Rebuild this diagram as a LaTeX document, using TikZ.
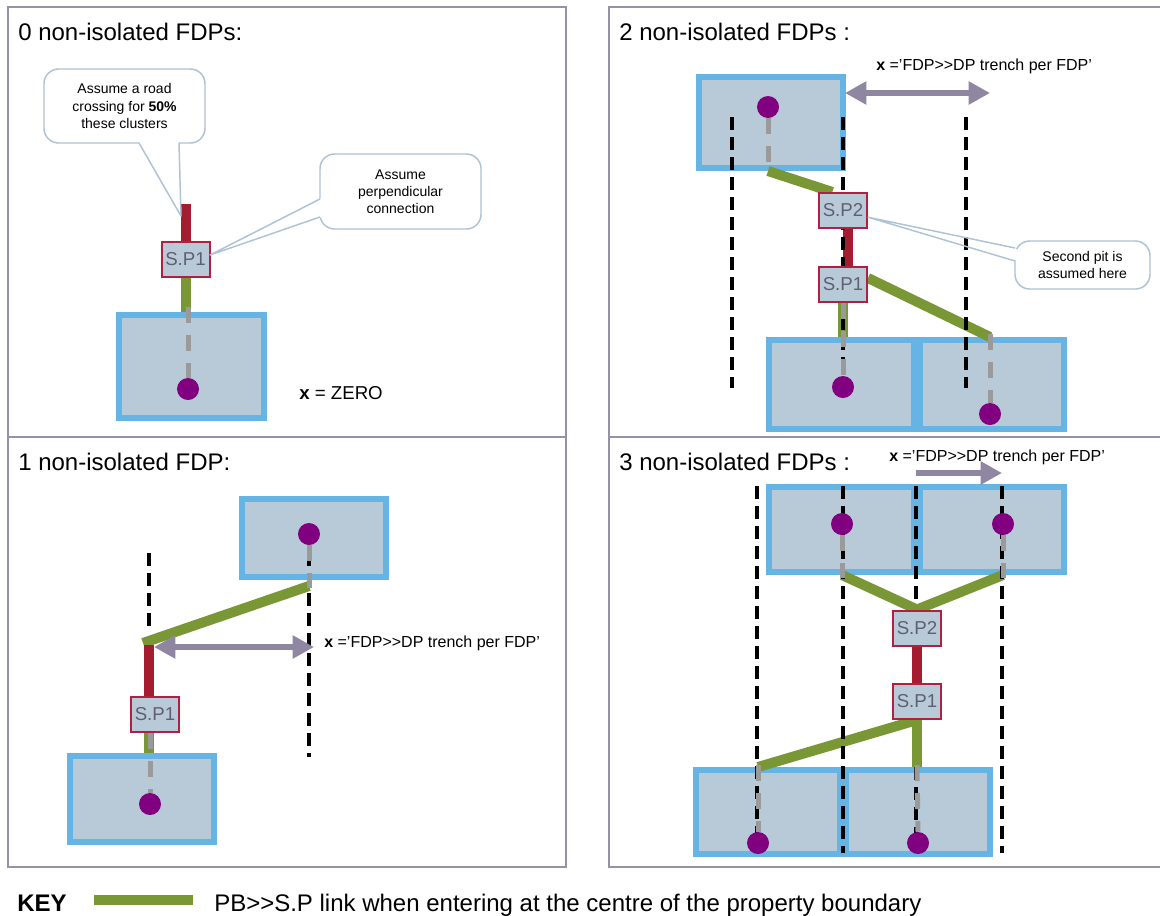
\documentclass[tikz,border=0pt]{standalone}
\usepackage{fontspec}
\setmainfont{Liberation Sans}
\usetikzlibrary{arrows.meta}
\definecolor{pbfill}{HTML}{B8CAD8}
\definecolor{pbblue}{HTML}{66B4E3}
\definecolor{dotpurple}{HTML}{800080}
\definecolor{linkgreen}{HTML}{7A9735}
\definecolor{linkred}{HTML}{A51B30}
\definecolor{pitred}{HTML}{B02040}
\definecolor{dashgray}{HTML}{9A9A9A}
\definecolor{arrowgray}{HTML}{8F87A1}
\definecolor{framegray}{HTML}{9690A8}
\definecolor{calloutline}{HTML}{AFC3D4}
\definecolor{pittext}{HTML}{5E6070}
\pgfdeclarelayer{lyboxes}
\pgfdeclarelayer{lylinks}
\pgfdeclarelayer{lytrench}
\pgfdeclarelayer{lydrop}
\pgfsetlayers{lyboxes,lylinks,lytrench,lydrop,main}
\begin{document}
\begin{tikzpicture}[x=0.75pt,y=-0.75pt,
  panelframe/.style={draw=framegray, line width=1.5pt},
  propbox/.style 2 args={draw=pbblue, fill=pbfill, line width=4.5pt, inner sep=0pt,
     minimum width={(#1-6)*0.75pt}, minimum height={(#2-6)*0.75pt}},
  pitbox/.style={draw=pitred, fill=pbfill, line width=1.5pt, minimum width=36pt,
     minimum height=26.25pt, inner sep=0pt, text=pittext, font=\fontsize{14}{16}\selectfont},
  fdpdot/.style={circle, fill=dotpurple, minimum size=16.5pt, inner sep=0pt},
  greenlink/.style={draw=linkgreen, line width=7.5pt},
  redlink/.style={draw=linkred, line width=7.5pt},
  trenchline/.style={draw=black, line width=3pt, dash pattern=on 9.75pt off 5.25pt},
  dropline/.style={draw=dashgray, line width=3.75pt, dash pattern=on 12pt off 9pt},
  measurearrow/.style={draw=arrowgray, line width=4.5pt, >={Triangle[length=16pt,width=16.5pt]}},
  titletext/.style={anchor=base west, inner sep=0pt, font=\fontsize{18}{20}\selectfont},
  labeltext/.style={anchor=base west, inner sep=0pt, font=\fontsize{12}{14}\selectfont},
  calloutbox/.style={draw=calloutline, fill=white, line width=1.1pt, rounded corners=11pt,
     align=center, inner sep=0pt, font=\fontsize{10.5}{12.8}\selectfont},
  callouttail/.style={draw=calloutline, line width=1.1pt, line join=round},
]
\useasboundingbox (0,0) rectangle (1160,915);

\begin{pgfonlayer}{lyboxes}
\fill[white] (0,0) rectangle (1160,915);
\draw[panelframe] (8,7) rectangle (566,437);
\draw[panelframe] (8,437) rectangle (566,867);
\draw[panelframe] (1165,7) -- (609,7) -- (609,437) -- (1165,437);
\draw[panelframe] (1165,437) -- (609,437) -- (609,867) -- (1165,867);
% property boxes
\node[propbox={151}{109}] (pa) at (191.5,366.5) {};
\node[propbox={150}{97}] (pb1) at (771,122.5) {};
\node[propbox={151}{95}] (pb2) at (841.5,384.5) {};
\node[propbox={150}{95}] (pb3) at (992,384.5) {};
\node[propbox={150}{84}] (pc1) at (314,538) {};
\node[propbox={150}{92}] (pc2) at (142,799) {};
\node[propbox={151}{91}] (pd1) at (841.5,529.5) {};
\node[propbox={150}{91}] (pd2) at (992,529.5) {};
\node[propbox={150}{90}] (pd3) at (768,812) {};
\node[propbox={150}{90}] (pd4) at (918,812) {};
\end{pgfonlayer}

% pits
\node[pitbox] (spa) at (185.5,259.5) {S.P1};
\node[pitbox] (spb2) at (843,210.5) {S.P2};
\node[pitbox] (spb1) at (843,284.5) {S.P1};
\node[pitbox] (spc) at (155,714) {S.P1};
\node[pitbox] (spd2) at (917,628) {S.P2};
\node[pitbox] (spd1) at (917,701.5) {S.P1};

% dots
\node[fdpdot] (da) at (188,389) {};
\node[fdpdot] (db1) at (768,107) {};
\node[fdpdot] (db2) at (843,387) {};
\node[fdpdot] (db3) at (990,414) {};
\node[fdpdot] (dc1) at (309,534) {};
\node[fdpdot] (dc2) at (150,804) {};
\node[fdpdot] (dd1) at (842,524) {};
\node[fdpdot] (dd2) at (1003,524) {};
\node[fdpdot] (dd3) at (758,843) {};
\node[fdpdot] (dd4) at (918,843) {};

% free ends
\coordinate (ra) at (186,204);
\coordinate (gc1) at (309,586);
\coordinate (gc2) at (143,643);
\coordinate (rc) at (149,645);

\begin{pgfonlayer}{lylinks}
% top-left
\draw[redlink] (ra) -- (ra |- spa.north);
\draw[greenlink] (ra |- spa.south) -- (ra |- pa.north);
% top-right
\draw[greenlink] (db1 |- pb1.south) -- ([xshift=-8pt]spb2.north);
\draw[redlink] ([xshift=3.5pt]spb2.south) -- ([xshift=3.5pt]spb1.north);
\draw[greenlink] ([yshift=-9pt]spb1.north east) -- (db3 |- pb3.north);
\draw[greenlink] (spb1.south) -- (spb1.south |- pb2.north);
% bottom-left
\draw[greenlink] (gc1) -- (gc2);
\draw[redlink] (rc) -- (rc |- spc.north);
\draw[greenlink] (rc |- spc.south) -- (rc |- pc2.north);
% bottom-right
\draw[greenlink] (dd1 |- pd1.south) -- (spd2.north);
\draw[greenlink] (dd2 |- pd2.south) -- (spd2.north);
\draw[redlink] (spd2.south) -- (spd1.north);
\draw[greenlink] (spd1.south) -- (dd3 |- pd3.north);
\draw[greenlink] (spd1.south) -- (spd1.south |- pd4.north);
\end{pgfonlayer}

\begin{pgfonlayer}{lytrench}
\draw[trenchline] (732,117) -- (732,388);
\draw[trenchline] (843,117) -- (843,388);
\draw[trenchline] (966,117) -- (966,388);
\draw[trenchline] (149,553) -- (149,630);
\draw[trenchline] (309,553) -- (309,757);
\draw[trenchline] (757,486) -- (757,853);
\draw[trenchline] (843,486) -- (843,853);
\draw[trenchline] (916,486) -- (916,603);
\draw[trenchline] (916,767) -- (916,853);
\draw[trenchline] (1002,486) -- (1002,853);
\end{pgfonlayer}

\begin{pgfonlayer}{lydrop}
\draw[dropline] (188,307) -- (da.north);
\draw[dropline] (db1.south) -- (db1 |- pb1.south);
\draw[dropline] (spb1.south) -- (db2.north);
\draw[dropline] (990,334) -- (db3.north);
\draw[dropline] (dc1.south) -- (309,588);
\draw[dropline] (dc2 |- spc.south) -- (dc2.north);
\draw[dropline] (dd1.south) -- (842,578);
\draw[dropline] (dd2.south) -- (1003,578);
\draw[dropline] (758,765) -- (dd3.north);
\draw[dropline] (917,765) -- (dd4.north);
\end{pgfonlayer}

% titles and labels
\node[titletext] (t0) at (18,40) {0 non-isolated FDPs:};
\node[titletext] (t2) at (619,40) {2 non-isolated FDPs :};
\node[titletext] (t1) at (18,470) {1 non-isolated FDP:};
\node[titletext] (t3) at (619,470) {3 non-isolated FDPs :};
\node[anchor=base west, inner sep=0pt, font=\fontsize{14}{16}\selectfont] (xzero) at (299,399) {\textbf{x} = ZERO};
\node[labeltext] (xl2) at (876,70) {\textbf{x} ='FDP>{}>DP trench per FDP'};
\node[labeltext] (xl1) at (324,647) {\textbf{x} ='FDP>{}>DP trench per FDP'};
\node[labeltext] (xl3) at (889,461) {\textbf{x} ='FDP>{}>DP trench per FDP'};

% measure arrows
\coordinate (ab1) at (845,93);
\coordinate (ab2) at (990,93);
\draw[measurearrow,<->] (ab1) -- (ab2);
\coordinate (ac1) at (154,647);
\coordinate (ac2) at (314,647);
\draw[measurearrow,<->] (ac1) -- (ac2);
\coordinate (ad1) at (916,473);
\coordinate (ad2) at (1002,473);
\draw[measurearrow,->] (ad1) -- (ad2);

% callouts
\node[calloutbox, minimum width=120.75pt, minimum height=55.5pt] (c1) at (124.5,106)
  {Assume a road\\crossing for \textbf{50\%}\\these clusters};
\fill[white] (140,141) -- (139,143.5) -- (181,216) -- (179,143.5) -- (178,141) -- cycle;
\draw[callouttail] (139,143) -- (181,216) -- (179,143);

\node[calloutbox, minimum width=120.75pt, minimum height=56.25pt] (c2) at (400.5,191.5)
  {Assume\\perpendicular\\connection};
\fill[white] (322,198) -- (319.5,199) -- (210,255) -- (319.5,217) -- (322,218) -- cycle;
\draw[callouttail] (320,199) -- (210,255) -- (320,217);

\node[calloutbox, minimum width=101.25pt, minimum height=36pt] (c3) at (1082.5,265)
  {Second pit is\\assumed here};
\fill[white] (1013.5,248.8) rectangle (1016.5,260.2);
\draw[callouttail] (1015,248) -- ([yshift=-5pt]spb2.east) -- (1015,261);

% key
\node[anchor=base west, inner sep=0pt, font=\fontsize{18}{20}\selectfont\bfseries] (keylbl) at (17,911) {KEY};
\coordinate (kg1) at (94,899.5);
\coordinate (kg2) at (193,899.5);
\draw[greenlink] (kg1) -- (kg2);
\node[anchor=base west, inner sep=0pt, font=\fontsize{18}{20}\selectfont] (keytxt) at (214,911)
  {PB>{}>S.P link when entering at the centre of the property boundary};
\end{tikzpicture}
\end{document}
